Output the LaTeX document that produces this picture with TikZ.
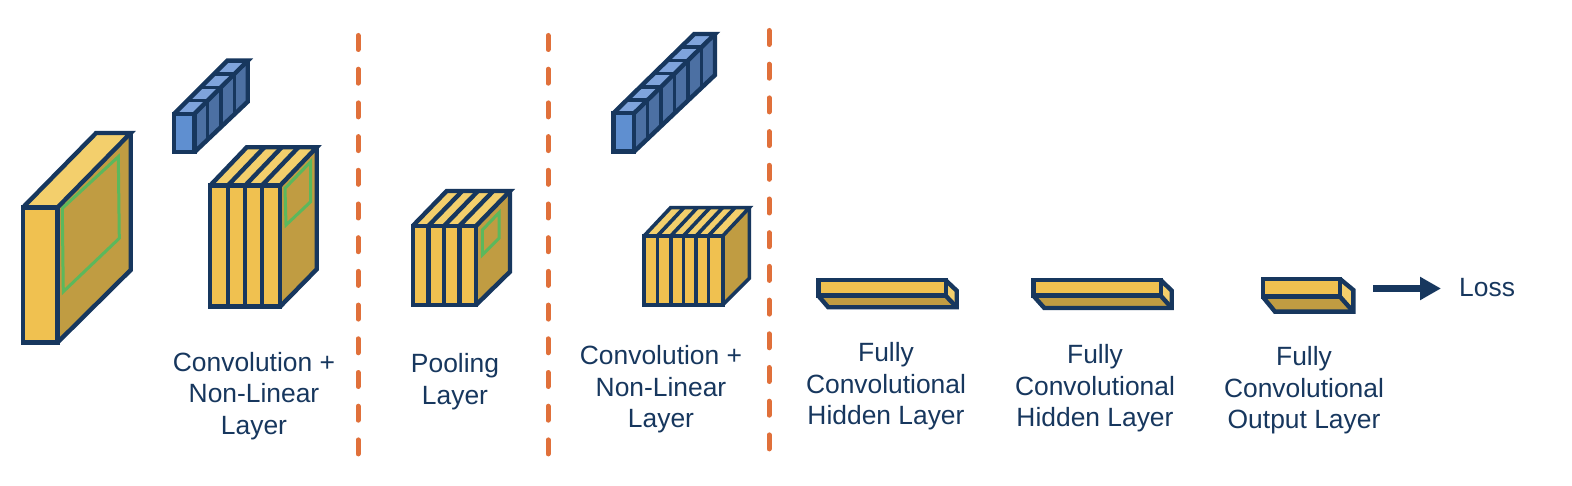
\documentclass[tikz,border=0pt]{standalone}
\usepackage{fontspec}
\setmainfont{Liberation Sans}
\usetikzlibrary{arrows.meta}
\definecolor{navy}{HTML}{17375E}
\definecolor{yfront}{HTML}{F0C150}
\definecolor{yside}{HTML}{C09C42}
\definecolor{ytop}{HTML}{F3CF6C}
\definecolor{bfront}{HTML}{5F8FD0}
\definecolor{bside}{HTML}{4C70A3}
\definecolor{btop}{HTML}{7FA4DC}
\definecolor{grn}{HTML}{5CB85C}
\definecolor{org}{HTML}{E0703A}
\tikzset{
  edge/.style={draw=navy,line width=4.4pt,line join=miter},
  thinedge/.style={draw=navy,line width=3.6pt,line join=miter},
  window/.style={draw=grn,line width=3pt,line join=miter},
  sep/.style={draw=org,line width=5pt,line cap=round,dash pattern=on 14pt off 19.7pt},
  lbl/.style={text=navy,align=center,inner sep=0pt,font=\fontsize{26.4}{31.5}\selectfont},
  lossarrow/.style={draw=navy,line width=7pt,-{Triangle[length=21pt,width=22pt]}}
}
% #1 style, #2 x1, #3 x2, #4 y1, #5 y2, #6 dx, #7 dy top, #8 dy bottom, #9 divider list
\newcommand{\yellowbox}[9]{%
  \path[fill=yside] (#3,#4) -- ++(#6,-#7) -- (#3+#6,#5-#8) -- (#3,#5) -- cycle;
  \path[fill=ytop] (#2,#4) -- ++(#6,-#7) -- (#3+#6,#4-#7) -- (#3,#4) -- cycle;
  \path[fill=yfront] (#2,#4) rectangle (#3,#5);
  \foreach \d in {#9}{%
    \draw[#1] (\d,#4) -- (\d,#5);
    \draw[#1] (\d,#4) -- ++(#6,-#7);
  }
  \draw[#1] (#2,#4) rectangle (#3,#5);
  \draw[#1] (#2,#4) -- ++(#6,-#7) -- (#3+#6,#4-#7) -- (#3,#4);
  \draw[#1] (#3+#6,#4-#7) -- (#3+#6,#5-#8) -- (#3,#5);
}
% #1 x1, #2 x2, #3 y1, #4 y2, #5 dx, #6 dy top, #7 dy bottom, #8 slices
\newcommand{\bluebar}[8]{%
  \path[fill=bside] (#2,#3) -- ++(#5,-#6) -- (#2+#5,#4-#7) -- (#2,#4) -- cycle;
  \path[fill=btop] (#1,#3) -- ++(#5,-#6) -- (#2+#5,#3-#6) -- (#2,#3) -- cycle;
  \path[fill=bfront] (#1,#3) rectangle (#2,#4);
  \foreach \k in {1,...,#8}{%
    \pgfmathsetmacro{\ff}{(\k-1)/#8}
    \pgfmathsetmacro{\xa}{#1+\ff*#5}
    \pgfmathsetmacro{\xb}{#2+\ff*#5}
    \pgfmathsetmacro{\ya}{#3-\ff*#6}
    \pgfmathsetmacro{\yb}{#4-\ff*#7}
    \ifnum\k>1
      \draw[thinedge] (\xa,\ya) -- (\xb,\ya) -- (\xb,\yb);
    \fi
  }
  \draw[edge] (#1,#3) rectangle (#2,#4);
  \draw[edge] (#1,#3) -- ++(#5,-#6) -- (#2+#5,#3-#6) -- (#2,#3);
  \draw[edge] (#2+#5,#3-#6) -- (#2+#5,#4-#7) -- (#2,#4);
}
% #1 x1, #2 x2, #3 x3 (back right), #4 y1, #5 y2 front bottom, #6 y side join, #7 y3 bottom, #8 x bottom left
\newcommand{\flatbox}[8]{%
  \path[fill=yside] (#1,#5) -- (#8,#7) -- (#3,#7) -- (#2,#5) -- cycle;
  \path[fill=ytop] (#2,#4) -- (#3,#6) -- (#3,#7) -- (#2,#5) -- cycle;
  \path[fill=yfront] (#1,#4) rectangle (#2,#5);
  \draw[edge] (#1,#4) rectangle (#2,#5);
  \draw[edge] (#1,#5) -- (#8,#7) -- (#3,#7) -- (#3,#6) -- (#2,#4);
  \draw[edge] (#2,#5) -- (#3,#7);
}
\begin{document}
\begin{tikzpicture}[x=1pt,y=-1pt]
\useasboundingbox (0,0) rectangle (1572,486);
\path[fill=white] (0,0) rectangle (1572,486);
% separators
\coordinate (s1a) at (358,35.5); \coordinate (s1b) at (358,455);
\coordinate (s2a) at (548,35.5); \coordinate (s2b) at (548,455);
\coordinate (s3a) at (769,30.5); \coordinate (s3b) at (769,450);
\draw[sep] (s1a) -- (s1b);
\draw[sep] (s2a) -- (s2b);
\draw[sep] (s3a) -- (s3b);
% input volume
\yellowbox{edge}{22.7}{57.3}{207.7}{342.7}{73.4}{74.7}{72.7}{}
\draw[window] (62.3,208.3) -- (118.3,156.7) -- (119.3,238.3) -- (63.3,291.7) -- cycle;
% first convolution
\yellowbox{edge}{210}{280}{185.7}{306.7}{36.7}{38.4}{37.4}{227.7,245,261.7}
\draw[window] (285,188.3) -- (310.7,161.7) -- (310.7,201.7) -- (286,225) -- cycle;
\bluebar{174}{194.3}{114}{152.3}{53.4}{53.3}{50.6}{4}
% pooling
\yellowbox{edge}{412.7}{476}{226}{305}{34}{35}{33.3}{428.3,444,459.3}
\draw[window] (482.3,230) -- (499,212.7) -- (499,238.3) -- (482.3,255) -- cycle;
% second convolution
\bluebar{613.3}{634}{113.3}{151.7}{81}{79.3}{76.7}{6}
\yellowbox{thinedge}{644}{722.7}{236}{305}{26.6}{28.3}{26.7}{657.3,670.7,683.3,696,708.3}
% flat layers
\flatbox{818.3}{945.7}{956.7}{280.3}{295.7}{290.7}{307.3}{828.3}
\flatbox{1033.3}{1160.7}{1171.7}{280}{295.7}{290.7}{308}{1044.3}
\flatbox{1262.7}{1340}{1353.3}{279}{296.7}{290}{311.7}{1275}
% labels
\node[lbl] (l1) at (254,396) {Convolution +\\Non-Linear\\Layer};
\node[lbl] (l2) at (455,381.5) {Pooling\\Layer};
\node[lbl] (l3) at (661,389.5) {Convolution +\\Non-Linear\\Layer};
\node[lbl] (l4) at (886,386.5) {Fully\\Convolutional\\Hidden Layer};
\node[lbl] (l5) at (1095,388.5) {Fully\\Convolutional\\Hidden Layer};
\node[lbl] (l6) at (1304,390.5) {Fully\\Convolutional\\Output Layer};
\node[lbl,anchor=west] (loss) at (1459,287.5) {Loss};
\coordinate (arrowtail) at (1373,288.5);
\coordinate (arrowhead) at (1441,288.5);
\draw[lossarrow] (arrowtail) -- (arrowhead);
\end{tikzpicture}
\end{document}
